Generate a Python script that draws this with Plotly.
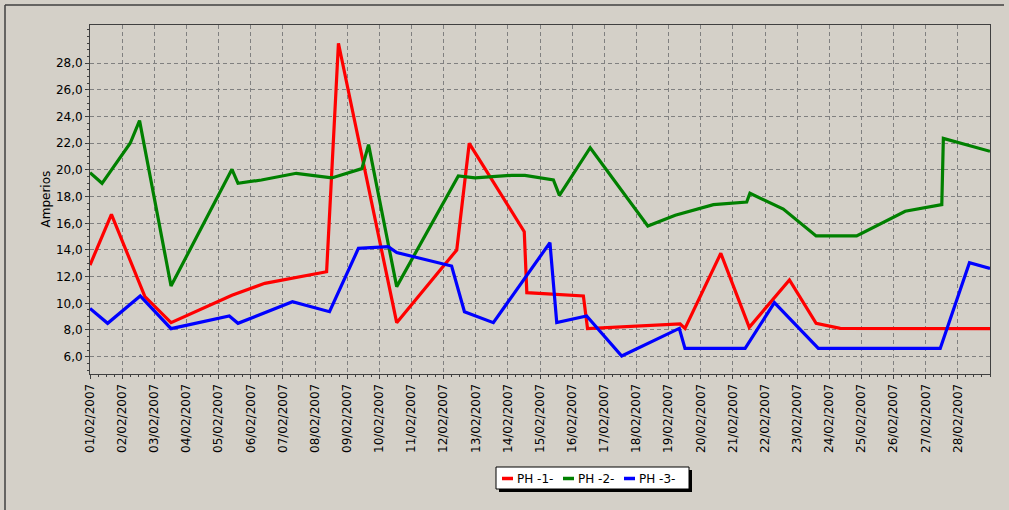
import plotly.graph_objects as go
from datetime import datetime

# ---------------- data ----------------
ph1_time = ["2007-02-01 00:00", "2007-02-01 16:00", "2007-02-02 17:00", "2007-02-03 12:30",
            "2007-02-05 10:00", "2007-02-06 10:30", "2007-02-08 08:40", "2007-02-08 17:30",
            "2007-02-10 13:00", "2007-02-12 09:50", "2007-02-12 19:10", "2007-02-14 12:15",
            "2007-02-14 14:10", "2007-02-16 08:24", "2007-02-16 11:30", "2007-02-19 08:40",
            "2007-02-19 12:15", "2007-02-20 15:00", "2007-02-21 12:15", "2007-02-22 18:15",
            "2007-02-23 14:10", "2007-02-24 08:10", "2007-03-01 00:00"]
ph1_vals = [12.87, 16.67, 10.5, 8.55, 10.6, 11.5, 12.37, 29.5, 8.55, 14.0, 22.0, 15.37,
            10.8, 10.55, 8.1, 8.45, 8.12, 13.75, 8.2, 11.75, 8.5, 8.12, 8.1]

ph2_time = ["2007-02-01 00:00", "2007-02-01 09:00", "2007-02-02 06:00", "2007-02-02 13:00",
            "2007-02-03 12:30", "2007-02-05 10:00", "2007-02-05 14:30", "2007-02-06 08:00",
            "2007-02-07 10:00", "2007-02-08 02:30", "2007-02-08 12:30", "2007-02-09 11:00",
            "2007-02-09 16:00", "2007-02-10 13:00", "2007-02-12 11:00", "2007-02-12 23:30",
            "2007-02-13 12:00", "2007-02-14 03:00", "2007-02-14 12:45", "2007-02-15 10:00",
            "2007-02-15 14:30", "2007-02-16 13:30", "2007-02-18 08:30", "2007-02-19 05:00",
            "2007-02-20 09:30", "2007-02-21 10:20", "2007-02-21 12:45", "2007-02-22 13:40",
            "2007-02-23 14:10", "2007-02-24 20:25", "2007-02-26 08:40", "2007-02-27 12:00",
            "2007-02-27 13:10", "2007-03-01 00:00"]
ph2_vals = [19.8, 19.0, 22.0, 23.7, 11.3, 20.05, 19.0, 19.25, 19.75, 19.5, 19.4, 20.1,
            21.9, 11.25, 19.55, 19.4, 19.5, 19.6, 19.6, 19.25, 18.1, 21.67, 15.8, 16.6,
            17.4, 17.6, 18.25, 17.07, 15.05, 15.05, 16.9, 17.4, 22.37, 21.4]

ph3_time = ["2007-02-01 00:00", "2007-02-01 13:10", "2007-02-02 13:30", "2007-02-03 12:30",
            "2007-02-05 08:00", "2007-02-05 14:30", "2007-02-07 07:10", "2007-02-08 10:50",
            "2007-02-09 08:25", "2007-02-10 06:40", "2007-02-10 13:00", "2007-02-12 06:00",
            "2007-02-12 15:35", "2007-02-13 13:10", "2007-02-15 07:25", "2007-02-15 12:30",
            "2007-02-16 10:50", "2007-02-17 13:00", "2007-02-19 08:00", "2007-02-19 12:15",
            "2007-02-21 09:10", "2007-02-22 07:00", "2007-02-23 15:50", "2007-02-27 10:50",
            "2007-02-28 08:40", "2007-03-01 00:00"]
ph3_vals = [9.62, 8.5, 10.55, 8.1, 9.05, 8.5, 10.12, 9.37, 14.12, 14.25, 13.8, 12.8,
            9.37, 8.55, 14.55, 8.55, 9.05, 6.05, 8.12, 6.62, 6.62, 10.05, 6.62, 6.62,
            13.05, 12.62]

series_names = ["PH -1-", "PH -2-", "PH -3-"]
series_colors = ["#FF0000", "#008000", "#0000FF"]

x_tick_dates = [datetime(2007, 2, d) for d in range(1, 29)]
x_tick_text = [d.strftime("%d/%m/%Y") for d in x_tick_dates]
y_tick_vals = [6, 8, 10, 12, 14, 16, 18, 20, 22, 24, 26, 28]

# ---------------- figure ----------------
BG = "#D4D0C8"
FONT = "DejaVu Sans"
fig = go.Figure()
for t, v, n, c in zip([ph1_time, ph2_time, ph3_time], [ph1_vals, ph2_vals, ph3_vals],
                      series_names, series_colors):
    fig.add_trace(go.Scatter(x=t, y=v, mode="lines", name=n,
                             line=dict(color=c, width=3.2), showlegend=False))

fig.update_layout(
    width=1009, height=510,
    margin=dict(l=90, r=19, t=25, b=136),
    paper_bgcolor=BG, plot_bgcolor=BG,
    separators=",.",
    font=dict(family=FONT, size=12, color="#000000"),
)
fig.update_xaxes(
    range=["2007-02-01 00:00", "2007-03-01 00:00"],
    tickmode="array", tickvals=x_tick_dates, ticktext=x_tick_text,
    tickangle=-90, ticks="outside", ticklen=4, tickcolor="#404040",
    showgrid=True, gridcolor="#808080", griddash="4px,3px", gridwidth=1,
    showline=True, linecolor="#404040", linewidth=1, mirror=True,
    minor=dict(dtick=6 * 3600 * 1000, ticks="outside", ticklen=2, tickcolor="#404040", showgrid=False),
    tickfont=dict(family=FONT, size=12, color="#000000"),
    zeroline=False,
)
fig.update_yaxes(
    range=[4.7, 30.87],
    tickmode="array", tickvals=y_tick_vals, tickformat=".1f",
    ticks="outside", ticklen=4, tickcolor="#404040",
    showgrid=True, gridcolor="#808080", griddash="4px,3px", gridwidth=1,
    showline=True, linecolor="#404040", linewidth=1, mirror=True,
    minor=dict(dtick=0.5, tick0=0, ticks="outside", ticklen=2, tickcolor="#404040", showgrid=False),
    tickfont=dict(family=FONT, size=12, color="#000000"),
    zeroline=False,
)

# y-axis title
fig.add_annotation(text="Amperios", xref="paper", yref="paper", x=-0.05, y=0.5,
                   xanchor="center", yanchor="middle", textangle=-90, showarrow=False,
                   font=dict(family=FONT, size=12, color="#000000"))


def px(xp):
    return (xp - 90) / 900


def py(yp):
    return (374 - yp) / 349


# outer frame (left / top edges)
fig.add_shape(type="line", xref="paper", yref="paper", x0=px(5), x1=px(5),
              y0=py(5), y1=py(512), line=dict(color="#404040", width=1.5))
fig.add_shape(type="line", xref="paper", yref="paper", x0=px(5), x1=px(1004),
              y0=py(5), y1=py(5), line=dict(color="#404040", width=1.5))

# custom legend box
fig.add_shape(type="rect", xref="paper", yref="paper", x0=px(499), x1=px(692), y0=py(492), y1=py(470),
              line=dict(width=0), fillcolor="#000000")
fig.add_shape(type="rect", xref="paper", yref="paper", x0=px(496), x1=px(689), y0=py(489), y1=py(467),
              line=dict(color="#000000", width=1), fillcolor="#FFFFFF")
sym_x = [502, 563, 624]
for i, (n, c) in enumerate(zip(series_names, series_colors)):
    fig.add_shape(type="line", xref="paper", yref="paper", x0=px(sym_x[i]), x1=px(sym_x[i] + 11),
                  y0=py(478.5), y1=py(478.5), line=dict(color=c, width=3.5))
    fig.add_annotation(text=n, xref="paper", yref="paper", x=px(sym_x[i] + 13), y=py(478.5),
                       xanchor="left", yanchor="middle", showarrow=False,
                       font=dict(family=FONT, size=12, color="#000000"))

fig.write_html(
    "out.html",
    config={"displayModeBar": False},
    post_script="document.body.style.margin='0';document.body.style.background='#D4D0C8';"
                "document.documentElement.style.overflow='hidden';",
)
